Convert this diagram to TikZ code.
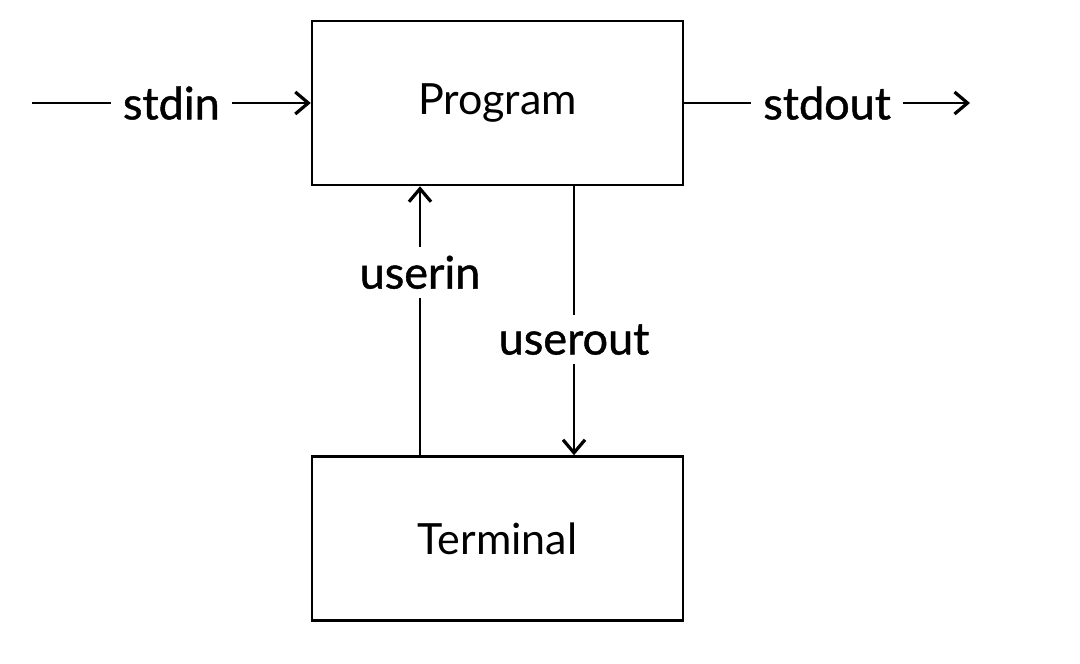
\documentclass[tikz,border=0pt]{standalone}
\usepackage{fontspec}
\setmainfont{Lato}
\newfontfamily\lblfont[FakeBold=1.0]{Lato}
\usetikzlibrary{arrows.meta}
\begin{document}
\begin{tikzpicture}[x=1pt,y=-1pt,
  box/.style={draw, line width=2.5pt, minimum width=371pt, minimum height=164pt, inner sep=0pt, font=\fontsize{43}{48}\selectfont},
  conn/.style={line width=2.5pt, -{Straight Barb[length=13pt,width=22pt,line width=3.2pt]}},
  lbl/.style={fill=white, font=\lblfont\fontsize{45}{50}\selectfont, inner xsep=12pt, inner ysep=8pt}]
\useasboundingbox (0,0) rectangle (1080,664);
\node[box] (prog) at (497.5,103) {Program};
\node[box] (term) at (497.5,538.5) {Terminal};
\coordinate (in) at (32,103);
\coordinate (out) at (970,103);
\draw[conn] (in) -- node[lbl] {stdin} (prog.west);
\draw[conn] (prog.east) -- node[lbl] {stdout} (out);
\draw[conn] (term.north -| 420,0) -- node[lbl, pos=0.68, inner ysep=9pt, inner xsep=2pt] {userin} (prog.south -| 420,0);
\draw[conn] (prog.south -| 574,0) -- node[lbl, pos=0.57, inner ysep=9pt, inner xsep=2pt] {userout} (term.north -| 574,0);
\end{tikzpicture}
\end{document}
